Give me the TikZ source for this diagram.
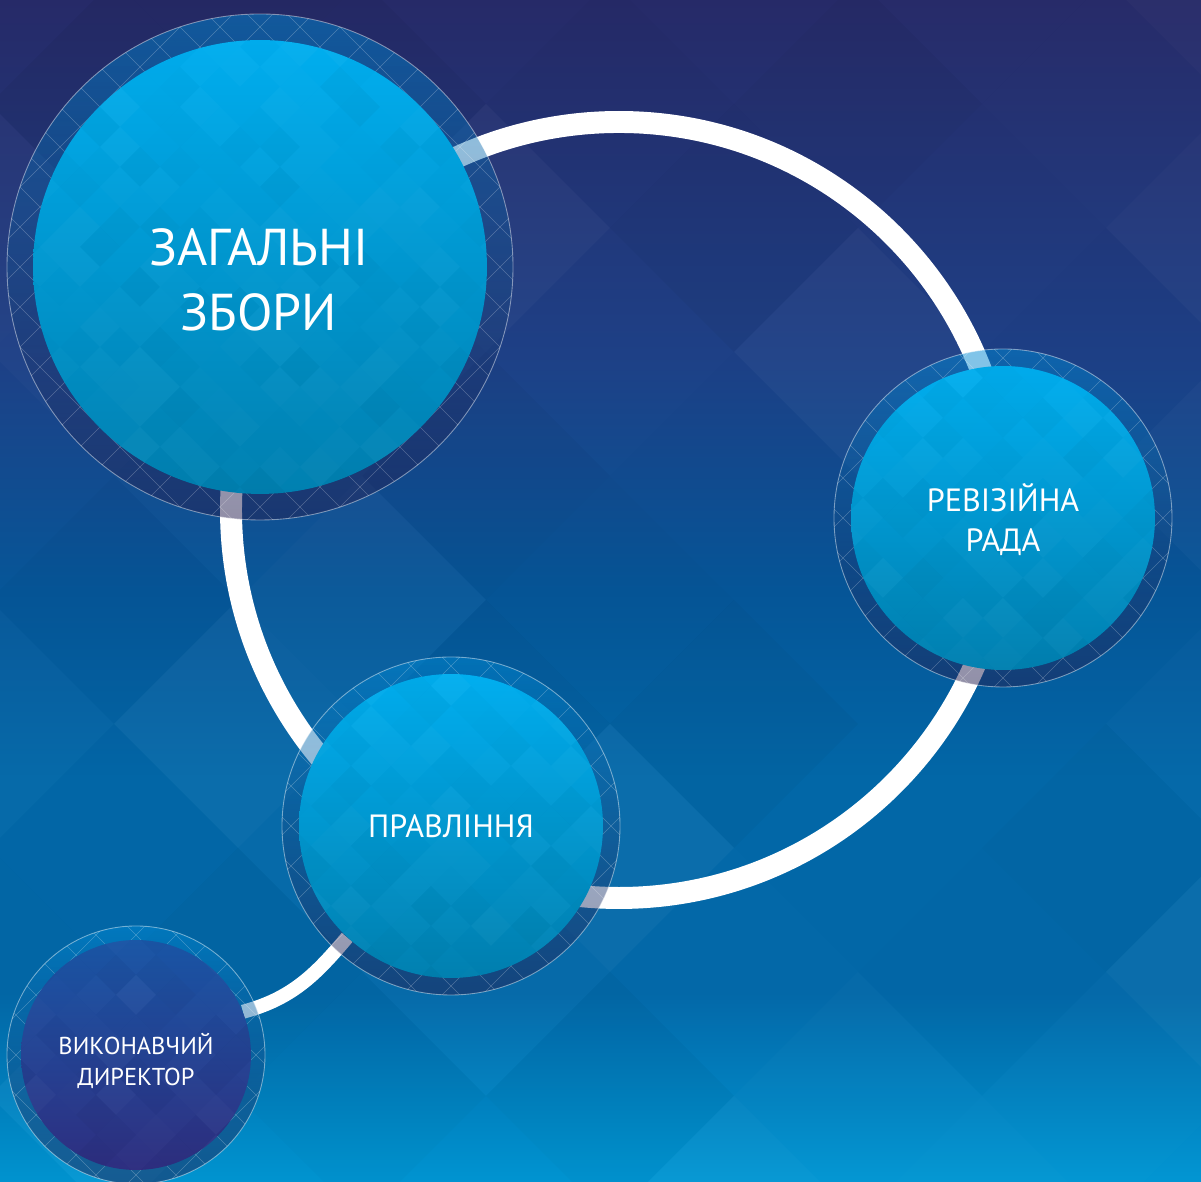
\documentclass[tikz,border=0pt]{standalone}
\usepackage{fontspec}
\setmainfont{PT Sans}
\usetikzlibrary{fadings}

\definecolor{bgtop}{RGB}{38,42,104}
\definecolor{bgupper}{RGB}{30,64,134}
\definecolor{bgmid}{RGB}{6,86,152}
\definecolor{bglow}{RGB}{3,104,168}
\definecolor{bgbot}{RGB}{0,150,211}
\definecolor{disctop}{RGB}{0,174,239}
\definecolor{discbot}{RGB}{0,128,176}
\definecolor{navytop}{RGB}{26,86,166}
\definecolor{navybot}{RGB}{46,46,128}
\definecolor{ringtop}{RGB}{0,140,215}
\definecolor{ringbot}{RGB}{37,31,80}

\pgfdeclareverticalshading{backdrop}{100bp}{color(0bp)=(bgbot); color(25bp)=(bgbot); color(33bp)=(bglow); color(42bp)=(bglow); color(50bp)=(bgmid); color(60bp)=(bgupper); color(75bp)=(bgtop); color(100bp)=(bgtop)}

\pgfdeclarelayer{backdrop}
\pgfdeclarelayer{links}
\pgfdeclarelayer{halos}
\pgfsetlayers{backdrop,links,halos,main}

% facets inside a disc
\newcommand{\facets}[1]{%
  \foreach \i in {-#1,...,#1} \foreach \j in {-#1,...,#1} {
    \pgfmathtruncatemacro\odd{mod(abs(\i+\j),2)}
    \ifnum\odd=1
      \pgfmathsetmacro\op{0.03*rnd}
      \pgfmathtruncatemacro\lite{rnd<0.5}
      \ifnum\lite=1 \def\tone{white}\else\def\tone{black}\fi
      \fill[fill=\tone, fill opacity=\op] (path picture bounding box.center) ++(20*\i-20,20*\j) -- ++(20,20) -- ++(20,-20) -- ++(-20,-20) -- cycle;
    \fi
  }}

% ring round a disc
\newcommand{\halo}[2]{%
  \fill[ringtop, fill opacity=.5, path fading=south] (#1) circle (#2);
  \fill[ringbot, fill opacity=.5, path fading=north] (#1) circle (#2);
  \begin{scope}
    \clip (#1) circle (#2);
    \foreach \k in {-10,...,10} {
      \draw[mesh] (#1) ++(40*\k-300,-300) -- ++(600,600);
      \draw[mesh] (#1) ++(40*\k+300,-300) -- ++(-600,600);
    }
  \end{scope}
  \draw[white, opacity=.45, line width=.5pt] (#1) circle (#2);}

\tikzstyle{disc} = [circle, draw=none, inner sep=0pt, top color=disctop, bottom color=discbot, path picture={\facets{12}}]
\tikzstyle{mesh} = [white, opacity=.25, line width=.35pt]
\tikzstyle{link} = [draw=white, line width=12.5pt]
\tikzstyle{caption} = [text=white, align=center, inner sep=0pt]

\begin{document}
\begin{tikzpicture}[x=0.02cm, y=0.02cm]
    \pgfmathsetseed{7}
    \useasboundingbox (0,0) rectangle (1201,1182);

    \begin{pgfonlayer}{backdrop}
        \shade[shading=backdrop] (0,0) rectangle (1201,1182);
        \begin{scope}
            \clip (0,0) rectangle (1201,1182);
            \foreach \i in {-7,...,5} \foreach \j in {-5,...,5} {
                \pgfmathtruncatemacro\odd{mod(abs(\i+\j),2)}
                \ifnum\odd=1
                    \pgfmathsetmacro\op{0.04*rnd}
                    \pgfmathtruncatemacro\lite{rnd<0.5}
                    \ifnum\lite=1 \def\tone{white}\else\def\tone{black}\fi
                    \fill[fill=\tone, fill opacity=\op] (734+124*\i-124,582+124*\j) -- ++(124,124) -- ++(124,-124) -- ++(-124,-124) -- cycle;
                \fi
            }
        \end{scope}
    \end{pgfonlayer}

    \node (zz) [disc, minimum size=9.08cm] at (260,915) {};
    \node (rr) [disc, minimum size=6.08cm] at (1003,664) {};
    \node (pr) [disc, minimum size=6.08cm] at (451,356) {};
    \node (vd) [disc, top color=navytop, bottom color=navybot, minimum size=4.6cm] at (136,127) {};

    \node (zzt) [caption, font=\fontsize{29.5}{37}\selectfont] at (259,902) {ЗАГАЛЬНІ\\ЗБОРИ};
    \node (rrt) [caption, font=\fontsize{18.3}{22.8}\selectfont] at (1003,662) {РЕВІЗІЙНА\\РАДА};
    \node (prt) [caption, font=\fontsize{18.3}{21}\selectfont] at (451,356) {ПРАВЛІННЯ};
    \node (vdt) [caption, font=\fontsize{13.9}{17.6}\selectfont] at (136,121) {ВИКОНАВЧИЙ\\ДИРЕКТОР};

    \begin{pgfonlayer}{links}
        \coordinate (hub) at (619,672);
        \draw[link] (hub) circle (388);
        \draw[link, line width=8pt] (vd.22) to[out=15, in=-130] (pr.-133);
    \end{pgfonlayer}

    \begin{pgfonlayer}{halos}
        \halo{zz}{253}
        \halo{rr}{169}
        \halo{pr}{169}
        \halo{vd}{129}
    \end{pgfonlayer}

\end{tikzpicture}
\end{document}
